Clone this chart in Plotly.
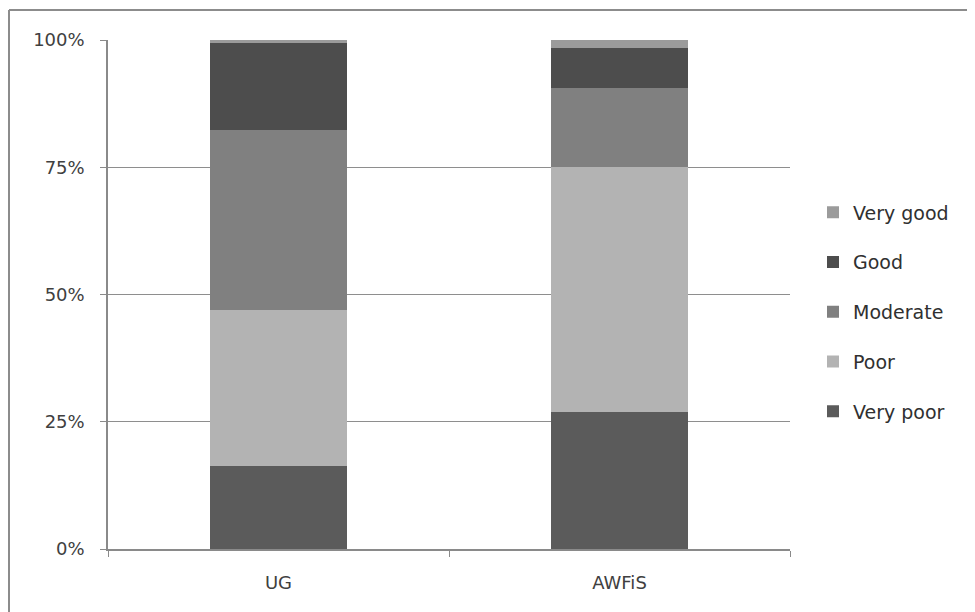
import plotly.graph_objects as go

categories = ["UG", "AWFiS"]
levels = ["Very poor", "Poor", "Moderate", "Good", "Very good"]
very_poor = [16.3, 26.9]
poor = [30.7, 48.1]
moderate = [35.3, 15.6]
good = [17.2, 7.9]
very_good = [0.5, 1.5]
series = [very_poor, poor, moderate, good, very_good]
colors = ["#5b5b5b", "#b3b3b3", "#808080", "#4d4d4d", "#9b9b9b"]

# page has an 8px body margin; coordinates below are figure coordinates
W, H = 975, 612
L, R, T, B = 100, 782, 32, 541

fig = go.Figure()
for i, (name, vals, col) in enumerate(zip(levels, series, colors)):
    fig.add_trace(go.Bar(
        x=categories, y=vals, name=name, marker_color=col,
        marker_line_width=0, legendgroup=name, width=0.4,
        legendrank=len(levels) - i,
    ))

fig.update_layout(
    width=W, height=H, barmode="stack",
    margin=dict(l=L, r=W - R, t=T, b=H - B, pad=0),
    paper_bgcolor="white", plot_bgcolor="white",
    font=dict(family="DejaVu Sans, sans-serif", size=18, color="#404040"),
    legend=dict(
        traceorder="grouped", tracegroupgap=22,
        x=(805 - L) / (R - L), xanchor="left",
        y=(B - 304) / (B - T), yanchor="middle",
        font=dict(size=19, color="#303030"),
        bgcolor="rgba(0,0,0,0)",
    ),
    showlegend=True,
)
fig.update_yaxes(
    range=[0, 100], tickvals=[0, 25, 50, 75, 100],
    ticktext=["0%", "25%", "50%", "75%", "100%"],
    showgrid=True, gridcolor="#8e8e8e", gridwidth=1,
    showline=True, linecolor="#8a8a8a", linewidth=1.5,
    ticks="outside", ticklen=6, tickcolor="#8a8a8a",
    zeroline=False, ticklabelstandoff=12,
)
fig.update_xaxes(
    showline=True, linecolor="#8a8a8a", linewidth=1.5,
    ticks="outside", tickson="boundaries", ticklen=6, tickcolor="#8a8a8a",
    showgrid=False, ticklabelstandoff=17,
)
# outer chart border (top and left edges visible)
bx = (1 - L) / (R - L)
by = (B - 2) / (B - T)
fig.add_shape(type="line", xref="paper", yref="paper", x0=bx, x1=1.4, y0=by, y1=by,
              line=dict(color="#8c8c8c", width=2))
fig.add_shape(type="line", xref="paper", yref="paper", x0=bx, x1=bx, y0=by, y1=-0.2,
              line=dict(color="#8c8c8c", width=2))

fig.write_html("out.html")
